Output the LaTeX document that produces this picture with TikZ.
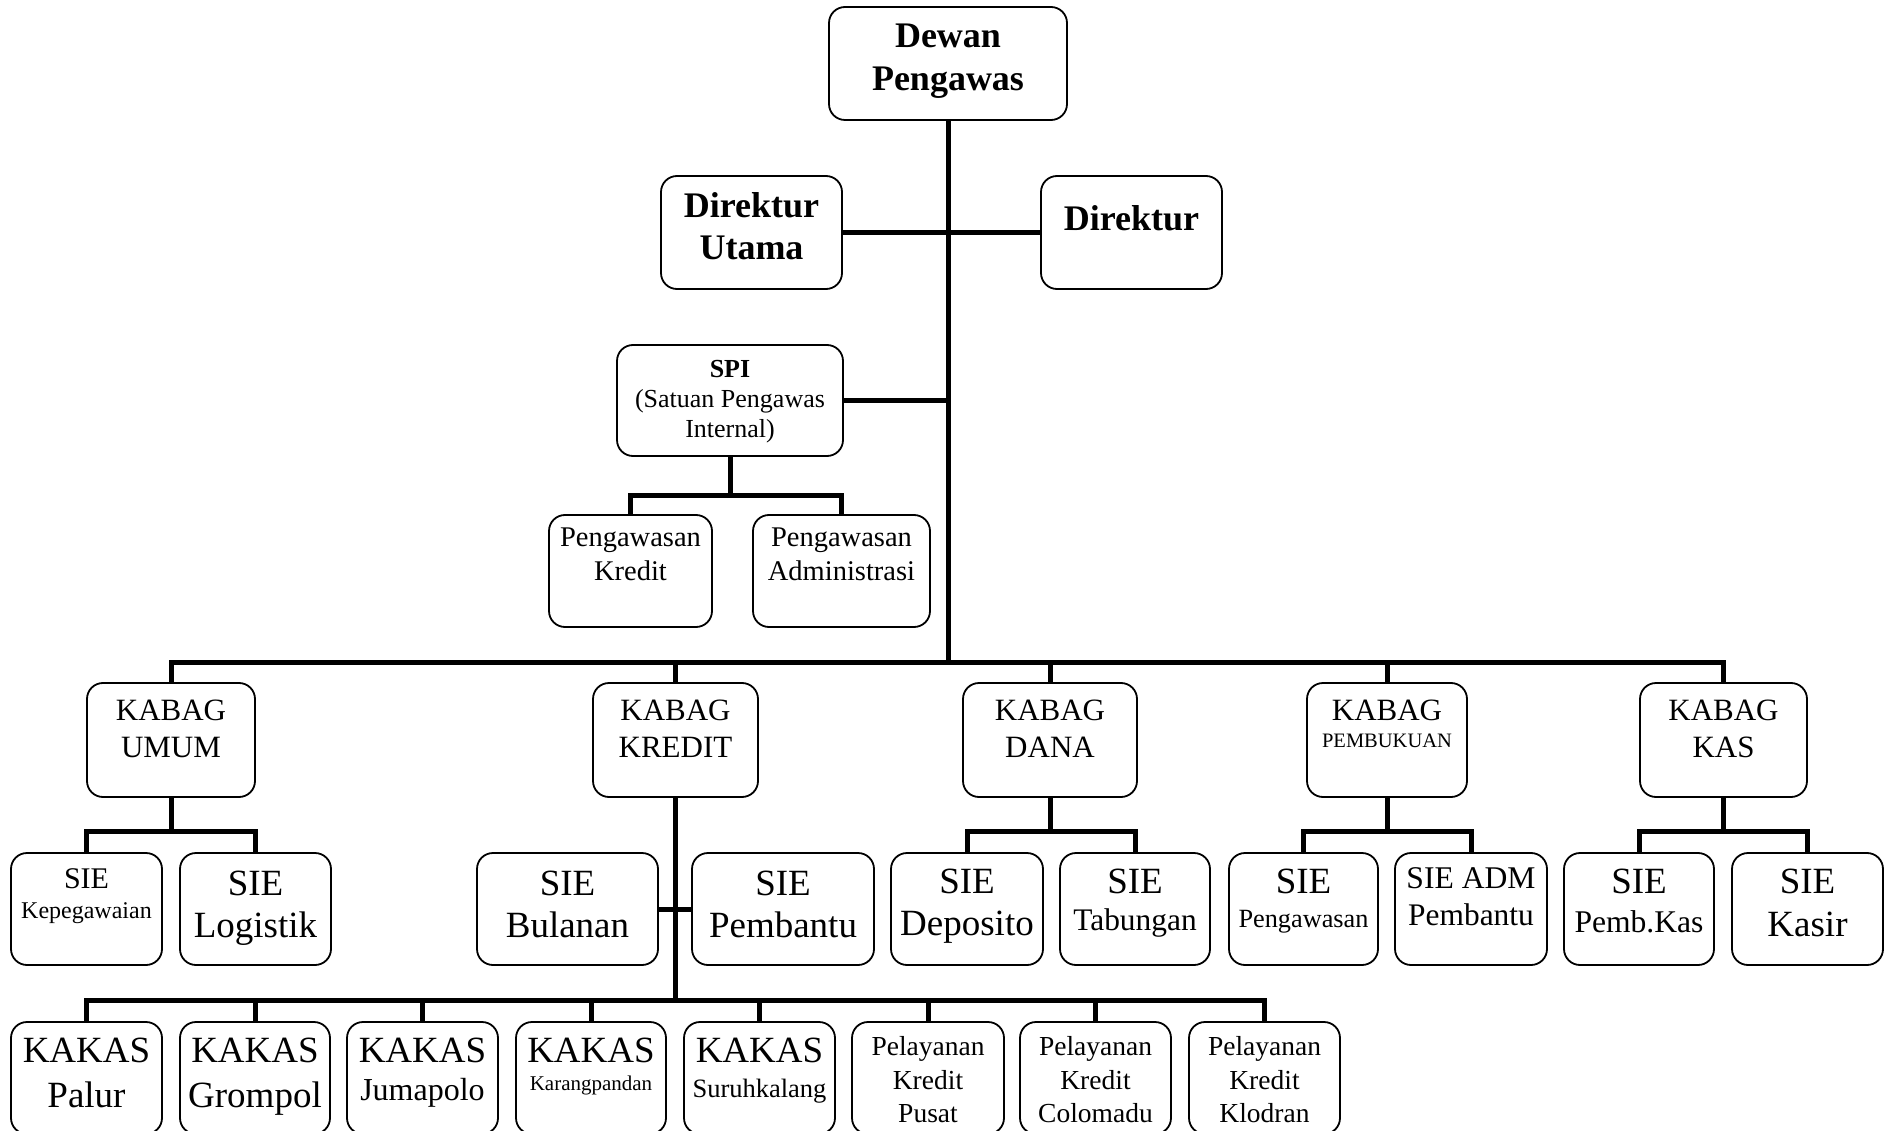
\documentclass[tikz,border=0pt]{standalone}
\usepackage{fontspec}
\setmainfont{Liberation Serif}
\newcommand\fs[1]{\fontsize{#1}{#1}\selectfont}
\tikzset{
  box/.style={draw=black, line width=1.8pt, rounded corners=16pt, fill=white, inner sep=0pt},
  conn/.style={draw=black, line width=5pt},
  txt/.style={inner sep=0pt, anchor=base, text=black},
}
\begin{document}
\begin{tikzpicture}[x=1pt,y=-1pt]
\clip (0,0) rectangle (1893,1131);
\fill[white] (0,0) rectangle (1893,1131);

% ---------- boxes ----------
\node[box, minimum width=238pt, minimum height=113pt] (dewan) at (948,63.5) {};
\node[box, minimum width=181pt, minimum height=113pt] (du) at (751.5,232.5) {};
\node[box, minimum width=181pt, minimum height=113pt] (dir) at (1131.5,232.5) {};
\node[box, minimum width=226pt, minimum height=111pt] (spi) at (730,400.5) {};
\node[box, minimum width=163pt, minimum height=112pt] (pk) at (630.5,571) {};
\node[box, minimum width=177pt, minimum height=112pt] (pa) at (841.5,571) {};

\node[box, minimum width=168pt, minimum height=114pt] (umum) at (171,740) {};
\node[box, minimum width=165pt, minimum height=114pt] (kredit) at (675.5,740) {};
\node[box, minimum width=174pt, minimum height=114pt] (dana) at (1050,740) {};
\node[box, minimum width=160pt, minimum height=114pt] (pemb) at (1387,740) {};
\node[box, minimum width=167pt, minimum height=114pt] (kas) at (1723.5,740) {};

\node[box, minimum width=151pt, minimum height=112pt] (kep) at (86.5,909) {};
\node[box, minimum width=151pt, minimum height=112pt] (log) at (255.5,909) {};
\node[box, minimum width=181pt, minimum height=112pt] (bul) at (567.5,909) {};
\node[box, minimum width=182pt, minimum height=112pt] (spb) at (783,909) {};
\node[box, minimum width=152pt, minimum height=112pt] (dep) at (967,909) {};
\node[box, minimum width=150pt, minimum height=112pt] (tab) at (1135,909) {};
\node[box, minimum width=149pt, minimum height=112pt] (pgw) at (1303.5,909) {};
\node[box, minimum width=152pt, minimum height=112pt] (adm) at (1471,909) {};
\node[box, minimum width=150pt, minimum height=112pt] (pkas) at (1639,909) {};
\node[box, minimum width=151pt, minimum height=112pt] (ksr) at (1807.5,909) {};

\node[box, minimum width=151pt, minimum height=112pt] (palur) at (86.5,1078) {};
\node[box, minimum width=150pt, minimum height=112pt] (grom) at (255,1078) {};
\node[box, minimum width=151pt, minimum height=112pt] (juma) at (422.5,1078) {};
\node[box, minimum width=150pt, minimum height=112pt] (karang) at (591,1078) {};
\node[box, minimum width=151pt, minimum height=112pt] (suruh) at (759.5,1078) {};
\node[box, minimum width=152pt, minimum height=112pt] (pusat) at (928,1078) {};
\node[box, minimum width=151pt, minimum height=112pt] (colo) at (1095.5,1078) {};
\node[box, minimum width=151pt, minimum height=112pt] (klod) at (1264.5,1078) {};

% ---------- connectors ----------
\coordinate (kbus) at (948,662);
\coordinate (spibus) at (730,495);
\coordinate (ubus) at (171,831);
\coordinate (dbus) at (1050,831);
\coordinate (pbus) at (1387,831);
\coordinate (sbus) at (1723.5,831);
\coordinate (kkbus) at (675.5,1000);

\draw[conn] (dewan.south) -- (kbus);
\draw[conn] (du.east) -- (dir.west);
\draw[conn] (spi.east) -- (spi.east -| dewan.south);
\draw[conn] (spi.south) -- (spibus);
\draw[conn] (pk.north) |- (spibus) -| (pa.north);

\draw[conn] (umum.north) |- (kbus) -| (kas.north);
\draw[conn] (kredit.north) -- (kredit.north |- kbus);
\draw[conn] (dana.north) -- (dana.north |- kbus);
\draw[conn] (pemb.north) -- (pemb.north |- kbus);

\draw[conn] (umum.south) -- (ubus);
\draw[conn] (kep.north) |- (ubus) -| (log.north);
\draw[conn] (dana.south) -- (dbus);
\draw[conn] (dep.north) |- (dbus) -| (tab.north);
\draw[conn] (pemb.south) -- (pbus);
\draw[conn] (pgw.north) |- (pbus) -| (adm.north);
\draw[conn] (kas.south) -- (sbus);
\draw[conn] (pkas.north) |- (sbus) -| (ksr.north);

\draw[conn] (kredit.south) -- (kkbus);
\draw[conn] (bul.east) -- (spb.west);
\draw[conn] (palur.north) |- (kkbus) -| (klod.north);
\draw[conn] (grom.north) -- (grom.north |- kkbus);
\draw[conn] (juma.north) -- (juma.north |- kkbus);
\draw[conn] (karang.north) -- (karang.north |- kkbus);
\draw[conn] (suruh.north) -- (suruh.north |- kkbus);
\draw[conn] (pusat.north) -- (pusat.north |- kkbus);
\draw[conn] (colo.north) -- (colo.north |- kkbus);

% ---------- texts ----------
\node[txt, font=\fs{36}\bfseries] (dewan-1) at (948,48) {Dewan};
\node[txt, font=\fs{36}\bfseries] (dewan-2) at (948,91) {Pengawas};
\node[txt, font=\fs{36}\bfseries] (du-1) at (751.5,218) {Direktur};
\node[txt, font=\fs{36}\bfseries] (du-2) at (751.5,260) {Utama};
\node[txt, font=\fs{36}\bfseries] (dir-1) at (1131.5,231) {Direktur};

\node[txt, font=\fs{26}\bfseries] (spi-1) at (730,378) {SPI};
\node[txt, font=\fs{26}] (spi-2) at (730,408) {(Satuan Pengawas};
\node[txt, font=\fs{26}] (spi-3) at (730,437) {Internal)};
\node[txt, font=\fs{28.5}] (pk-1) at (630.5,546) {Pengawasan};
\node[txt, font=\fs{28.5}] (pk-2) at (630.5,580) {Kredit};
\node[txt, font=\fs{28.5}] (pa-1) at (841.5,546) {Pengawasan};
\node[txt, font=\fs{28.5}] (pa-2) at (841.5,580) {Administrasi};

\node[txt, font=\fs{31}] (umum-1) at (171,720) {KABAG};
\node[txt, font=\fs{31}] (umum-2) at (171,757) {UMUM};
\node[txt, font=\fs{31}] (kredit-1) at (675.5,720) {KABAG};
\node[txt, font=\fs{31}] (kredit-2) at (675.5,757) {KREDIT};
\node[txt, font=\fs{31}] (dana-1) at (1050,720) {KABAG};
\node[txt, font=\fs{31}] (dana-2) at (1050,757) {DANA};
\node[txt, font=\fs{31}] (pemb-1) at (1387,720) {KABAG};
\node[txt, font=\fs{20.5}] (pemb-2) at (1387,747) {PEMBUKUAN};
\node[txt, font=\fs{31}] (kas-1) at (1723.5,720) {KABAG};
\node[txt, font=\fs{31}] (kas-2) at (1723.5,757) {KAS};

\node[txt, font=\fs{30}] (kep-1) at (86.5,888) {SIE};
\node[txt, font=\fs{24}] (kep-2) at (86.5,918) {Kepegawaian};
\node[txt, font=\fs{37}] (log-1) at (255.5,895) {SIE};
\node[txt, font=\fs{37}] (log-2) at (255.5,937) {Logistik};
\node[txt, font=\fs{37}] (bul-1) at (567.5,895) {SIE};
\node[txt, font=\fs{37}] (bul-2) at (567.5,937) {Bulanan};
\node[txt, font=\fs{37}] (spb-1) at (783,895) {SIE};
\node[txt, font=\fs{37}] (spb-2) at (783,937) {Pembantu};
\node[txt, font=\fs{37}] (dep-1) at (967,893) {SIE};
\node[txt, font=\fs{37}] (dep-2) at (967,935) {Deposito};
\node[txt, font=\fs{37}] (tab-1) at (1135,893) {SIE};
\node[txt, font=\fs{31.4}] (tab-2) at (1135,930) {Tabungan};
\node[txt, font=\fs{37}] (pgw-1) at (1303.5,893) {SIE};
\node[txt, font=\fs{26.3}] (pgw-2) at (1303.5,927) {Pengawasan};
\node[txt, font=\fs{31.6}] (adm-1) at (1471,888) {SIE ADM};
\node[txt, font=\fs{31.4}] (adm-2) at (1471,925) {Pembantu};
\node[txt, font=\fs{37}] (pkas-1) at (1639,893) {SIE};
\node[txt, font=\fs{31.6}] (pkas-2) at (1639,932) {Pemb.Kas};
\node[txt, font=\fs{37}] (ksr-1) at (1807.5,893) {SIE};
\node[txt, font=\fs{37}] (ksr-2) at (1807.5,936) {Kasir};

\node[txt, font=\fs{37}] (palur-1) at (86.5,1062) {KAKAS};
\node[txt, font=\fs{37}] (palur-2) at (86.5,1107) {Palur};
\node[txt, font=\fs{37}] (grom-1) at (255,1062) {KAKAS};
\node[txt, font=\fs{37}] (grom-2) at (255,1107) {Grompol};
\node[txt, font=\fs{37}] (juma-1) at (422.5,1062) {KAKAS};
\node[txt, font=\fs{32}] (juma-2) at (422.5,1100) {Jumapolo};
\node[txt, font=\fs{37}] (karang-1) at (591,1062) {KAKAS};
\node[txt, font=\fs{21}] (karang-2) at (591,1090) {Karangpandan};
\node[txt, font=\fs{37}] (suruh-1) at (759.5,1062) {KAKAS};
\node[txt, font=\fs{26.5}] (suruh-2) at (759.5,1097) {Suruhkalang};
\node[txt, font=\fs{27.5}] (pusat-1) at (928,1055) {Pelayanan};
\node[txt, font=\fs{27.5}] (pusat-2) at (928,1089) {Kredit};
\node[txt, font=\fs{27.5}] (pusat-3) at (928,1122) {Pusat};
\node[txt, font=\fs{27.5}] (colo-1) at (1095.5,1055) {Pelayanan};
\node[txt, font=\fs{27.5}] (colo-2) at (1095.5,1089) {Kredit};
\node[txt, font=\fs{27.5}] (colo-3) at (1095.5,1122) {Colomadu};
\node[txt, font=\fs{27.5}] (klod-1) at (1264.5,1055) {Pelayanan};
\node[txt, font=\fs{27.5}] (klod-2) at (1264.5,1089) {Kredit};
\node[txt, font=\fs{27.5}] (klod-3) at (1264.5,1122) {Klodran};
\end{tikzpicture}
\end{document}
